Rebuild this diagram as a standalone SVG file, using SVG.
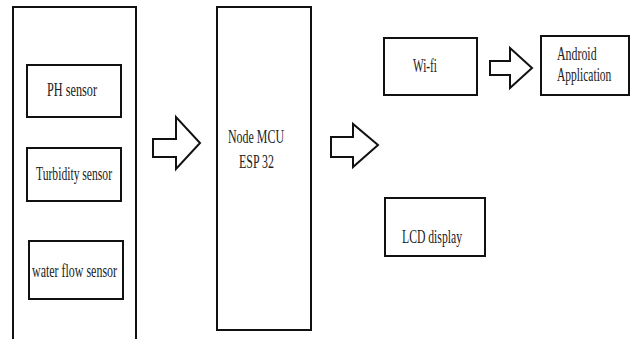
<svg xmlns="http://www.w3.org/2000/svg" width="631" height="339" viewBox="0 0 631 339">
<style>
.box{fill:none;stroke:#111;stroke-width:2}
.arr{fill:#fff;stroke:#111;stroke-width:2;stroke-linejoin:miter}
text{font-family:"Liberation Serif","DejaVu Serif",serif;font-size:18px;fill:#222}
</style>
<rect width="631" height="339" fill="#fff"/>
<g id="sensors">
<rect class="box" x="13" y="7" width="123" height="345"/>
</g>
<g id="ph">
<rect class="box" x="27" y="65" width="94" height="52"/>
<text x="47" y="96" textLength="50" lengthAdjust="spacingAndGlyphs">PH sensor</text>
</g>
<g id="turbidity">
<rect class="box" x="27" y="148" width="94" height="53"/>
<text x="36" y="180" textLength="76" lengthAdjust="spacingAndGlyphs">Turbidity sensor</text>
</g>
<g id="waterflow">
<rect class="box" x="29" y="241" width="94" height="58"/>
<text x="32" y="277" textLength="85" lengthAdjust="spacingAndGlyphs">water flow sensor</text>
</g>
<g id="mcu">
<rect class="box" x="217" y="7" width="94" height="323"/>
<text x="228" y="143" textLength="56" lengthAdjust="spacingAndGlyphs">Node MCU</text>
<text x="239" y="168" textLength="35" lengthAdjust="spacingAndGlyphs">ESP 32</text>
</g>
<g id="wifi">
<rect class="box" x="384" y="38" width="93" height="57"/>
<text x="413" y="72" textLength="24" lengthAdjust="spacingAndGlyphs">Wi-fi</text>
</g>
<g id="android">
<rect class="box" x="541" y="36" width="88" height="59"/>
<text transform="translate(557,60) scale(0.66,1)" x="0" y="0">Android</text>
<text transform="translate(557,81) scale(0.64,1)" x="0" y="0">Application</text>
</g>
<g id="lcd">
<rect class="box" x="385" y="198" width="100" height="58"/>
<text x="402" y="243" textLength="60" lengthAdjust="spacingAndGlyphs">LCD display</text>
</g>
<g id="connectors">
<polygon class="arr" points="153,139 176,139 176,117 200,143 176,169 176,157 153,157"/>
<polygon class="arr" points="331,137 353,137 353,124 378,145 353,167 353,157 331,157"/>
<polygon class="arr" points="490,61 510,61 510,48 532,68 510,88 510,75 490,75"/>
</g>
</svg>
